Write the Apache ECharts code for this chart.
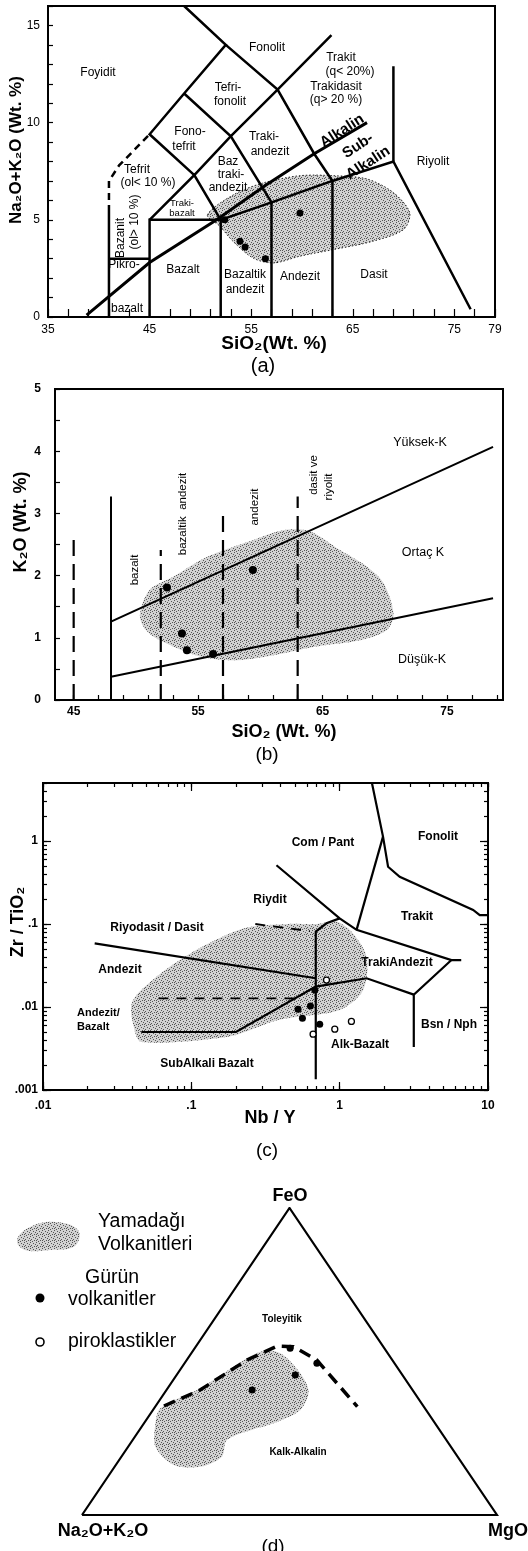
<!DOCTYPE html>
<html>
<head>
<meta charset="utf-8">
<title>Yamadağı volkanitleri - sınıflama diyagramları</title>
<script src="https://cdn.jsdelivr.net/npm/echarts@6/dist/echarts.min.js"></script>
<style>
html, body { margin: 0; padding: 0; background: #fff; }
#chart { width: 528px; height: 1551px; }
</style>
</head>
<body>
<div id="chart"></div>
<script>
var FONT = '"Liberation Sans", Arial, Helvetica, sans-serif';

// ---------- (a) TAS : [SiO2, Na2O+K2O]
var tasXLabels = [35, 45, 55, 65, 75, 79];
var tasYLabels = [0, 5, 10, 15];
var tasBounds = [
    [[41, 0], [41, 5.4]],
    [[41, 3], [45, 3]],
    [[45, 0], [45, 5], [52, 5]],
    [[52, 0], [52, 5], [57, 5.9], [63, 7], [69, 8], [76.6, 0.4]],
    [[57, 0], [57, 5.9]],
    [[63, 0], [63, 7]],
    [[69, 8], [69, 12.9]],
    [[45, 5], [49.4, 7.3], [52, 5]],
    [[49.4, 7.3], [45, 9.4], [48.4, 11.5], [52.5, 14], [48.4, 16]],
    [[49.4, 7.3], [53, 9.3], [57.6, 11.7], [62.9, 14.5]],
    [[48.4, 11.5], [53, 9.3], [57, 5.9]],
    [[52.5, 14], [57.6, 11.7], [61.2, 8.4], [63, 7]]
];
var tasDashed = [[[41, 5.4], [41, 7], [42, 7.8], [45, 9.4]]];
var tasAlkaline = [[[38.8, 0.1], [45, 2.8], [51.6, 5.0], [56.5, 6.8], [61.2, 8.4], [66.4, 10.0]]];
var tasField = [[50.7, 5.26], [53.3, 6.3], [56.2, 6.9], [59.8, 7.27], [63.1, 7.27], [66.4, 7.1], [69.0, 6.4],
    [70.6, 5.37], [70.0, 4.5], [67.0, 3.9], [63.1, 3.47], [59.8, 3.13], [57.2, 2.78], [55.2, 3.03],
    [53.2, 3.9], [51.9, 4.68]];
var tasGurun = [[52.4, 5.0], [53.9, 3.9], [54.4, 3.6], [56.4, 3.0], [59.8, 5.35]];

// ---------- (b) K2O - SiO2
var k2oXTicks = [45, 47, 49, 51, 53, 55, 57, 59, 61, 63, 65, 67, 69, 71, 73, 75, 77, 79];
var k2oXLabels = [45, 55, 65, 75];
var k2oBounds = [
    [[48, 0], [48, 3.27]],
    [[48, 1.26], [78.7, 4.07]],
    [[48, 0.375], [78.7, 1.635]]
];
var k2oDashed = [
    [[45, 0], [45, 2.6]],
    [[52, 0], [52, 2.41]],
    [[57, 0], [57, 3.0]],
    [[63, 0], [63, 3.27]]
];
var k2oField = [[50.33, 1.39], [51.1, 1.77], [53.0, 1.98], [55.7, 2.30], [59.4, 2.57], [61.85, 2.73], [64.0, 2.71],
    [66.4, 2.41], [68.6, 2.14], [69.9, 1.88], [70.7, 1.39], [70.2, 1.13], [68.0, 0.96], [64.5, 0.86],
    [60.5, 0.70], [57.8, 0.64], [55.15, 0.70], [53.0, 0.86], [51.4, 1.02], [50.6, 1.18]];
var k2oGurun = [[52.5, 1.81], [53.7, 1.07], [54.1, 0.80], [56.2, 0.74], [59.4, 2.09]];

// ---------- (c) Zr/TiO2 - Nb/Y
var wfXTicks = [0.01, 0.02, 0.03, 0.04, 0.05, 0.06, 0.07, 0.08, 0.09, 0.1, 0.2, 0.3, 0.4, 0.5, 0.6, 0.7, 0.8, 0.9,
    1, 2, 3, 4, 5, 6, 7, 8, 9, 10];
var wfYTicks = [0.001, 0.002, 0.003, 0.004, 0.005, 0.006, 0.007, 0.008, 0.009, 0.01, 0.02, 0.03, 0.04, 0.05, 0.06,
    0.07, 0.08, 0.09, 0.1, 0.2, 0.3, 0.4, 0.5, 0.6, 0.7, 0.8, 0.9, 1, 2, 3, 4, 5];
var wfXLabels = [0.01, 0.1, 1, 10];
var wfYLabels = [0.001, 0.01, 0.1, 1];
var wfLabelText = { '-3': '.001', '-2': '.01', '-1': '.1', '0': '1', '1': '10' };
var wfBounds = [
    [[1.65, 5], [1.96, 1.13], [2.12, 0.49], [2.54, 0.37], [7.94, 0.148], [8.8, 0.128], [10, 0.128]],
    [[1.96, 1.13], [1.3, 0.085]],
    [[0.375, 0.51], [1.0, 0.117], [1.3, 0.085], [5.67, 0.0368], [6.6, 0.0368]],
    [[5.67, 0.0368], [3.16, 0.0141], [3.16, 0.0033]],
    [[0.69, 0.00135], [0.69, 0.081], [0.815, 0.102], [1.0, 0.117]],
    [[0.0223, 0.0585], [0.69, 0.0222]],
    [[0.046, 0.005], [0.2, 0.005], [0.69, 0.0176], [1.52, 0.0222], [3.16, 0.0141]]
];
var wfDashed = [
    [[0.27, 0.1], [0.63, 0.082]],
    [[0.06, 0.0127], [0.55, 0.0127]]
];
var wfField = [[0.040, 0.0116], [0.058, 0.023], [0.09, 0.04], [0.14, 0.062], [0.235, 0.09], [0.45, 0.1], [0.7, 0.1],
    [0.95, 0.107], [1.23, 0.077], [1.52, 0.04], [1.44, 0.016], [1.0, 0.0092], [0.39, 0.007], [0.18, 0.0044],
    [0.046, 0.0038], [0.041, 0.0057]];
var wfGurun = [[0.524, 0.0094], [0.561, 0.0073], [0.635, 0.0103], [0.68, 0.016], [0.734, 0.0062]];
var wfPiro = [[0.662, 0.0047], [0.815, 0.0211], [0.927, 0.0054], [1.2, 0.0067]];

// ---------- (d) AFM : [Na2O+K2O, FeO, MgO] %
var afmFrame = [[100, 0, 0], [0, 100, 0], [0, 0, 100], [100, 0, 0]];
var afmDivide = [[62.5, 35.5, 2], [51.2, 40.7, 8.1], [35, 50.5, 14.5], [25.5, 55, 19.5], [21.6, 54.8, 23.6],
    [18.2, 50.5, 31.3], [17.1, 42.9, 40], [16, 35.3, 48.7]];
var afmField = [[67.35, 29.9, 2.75], [63.7, 34.8, 1.5], [50.85, 41.3, 7.85], [39.35, 48.3, 12.35], [30.4, 53.2, 16.4],
    [25.85, 52.7, 21.45], [24.3, 46.2, 29.5], [25.3, 40.2, 34.5], [30.3, 34.2, 35.5], [38.85, 29.9, 31.25],
    [45.35, 27.7, 26.95], [52.9, 24.4, 22.7], [56.8, 19, 24.2], [63.65, 15.7, 20.65], [69.75, 16.3, 13.95],
    [71.2, 22.2, 6.6]];
var afmGurun = [[22.7, 54.3, 23.0], [18.7, 49.4, 31.9], [25.8, 45.6, 28.6], [38.65, 40.7, 20.65]];

function afmXY(p) {
    var s = p[0] + p[1] + p[2];
    return [(p[2] + p[1] / 2) / s, p[1] / s];
}

// stippled fill like the scanned grey dot screen
var stipple = (function () {
    var c = document.createElement('canvas');
    c.width = 6; c.height = 6;
    var g = c.getContext('2d');
    g.fillStyle = '#d2d2d2';
    g.fillRect(0, 0, 6, 6);
    g.fillStyle = '#555';
    [[0, 0], [3, 1], [1, 3], [4, 4], [2, 5], [5, 2], [0, 4]].forEach(function (d) { g.fillRect(d[0], d[1], 1, 1); });
    return c;
})();
var stippleFill = { image: stipple, repeat: 'repeat' };

var chart = echarts.init(document.getElementById('chart'));

function bounds(i, paths, width, dash) {
    return {
        type: 'lines', coordinateSystem: 'cartesian2d', xAxisIndex: i, yAxisIndex: i,
        polyline: true, silent: true, z: 3,
        lineStyle: { color: '#000', width: width, opacity: 1, type: dash || 'solid' },
        data: paths.map(function (p) { return { coords: p }; })
    };
}
function field(i, pts, outline) {
    return {
        type: 'custom', xAxisIndex: i, yAxisIndex: i, silent: true, z: 1,
        renderItem: function (params, api) {
            if (params.dataIndex !== 0) return null;
            var poly = pts.map(function (p) { return api.coord(p); });
            var style = { fill: stippleFill };
            if (outline) { style.stroke = '#222'; style.lineWidth = 1; style.lineDash = [1.5, 2]; }
            return { type: 'polygon', shape: { points: poly, smooth: 0.3 }, style: style };
        },
        data: pts
    };
}
function dots(i, pts, open, size) {
    return {
        type: 'scatter', xAxisIndex: i, yAxisIndex: i, silent: true, z: 5,
        symbol: 'circle', symbolSize: size || 7,
        itemStyle: open ? { color: '#fff', borderColor: '#000', borderWidth: 1.3, opacity: 1 } : { color: '#000', opacity: 1 },
        data: pts
    };
}

var lineStyleAxis = { color: '#000', width: 2 };
var tickLine = { color: '#000', width: 1.2 };
function logAxis(grid, pos, ticks, len, labels, margin) {
    return {
        gridIndex: grid, type: 'log', logBase: 10, position: pos,
        min: pos === 'bottom' || pos === 'top' ? 0.01 : 0.001,
        max: pos === 'bottom' || pos === 'top' ? 10 : 5,
        axisLine: { show: true, onZero: false, lineStyle: lineStyleAxis },
        axisTick: { show: true, inside: true, length: len, customValues: ticks, lineStyle: tickLine },
        axisLabel: labels ? {
            show: true, customValues: labels, color: '#000', fontSize: 12, fontWeight: 'bold', fontFamily: FONT, margin: margin,
            formatter: function (v) { return wfLabelText[String(Math.round(Math.log(v) / Math.LN10))]; }
        } : { show: false },
        splitLine: { show: false }, minorSplitLine: { show: false }
    };
}

function F(size, bold) { return (bold ? 'bold ' : '') + size + 'px ' + FONT; }
function txt(x, y, s, font, rotDeg, align) {
    return {
        type: 'text', x: x, y: y, rotation: (rotDeg || 0) * Math.PI / 180, silent: true, z: 20,
        style: {
            text: s, font: font, fill: '#000',
            textAlign: align || 'center', textVerticalAlign: 'middle',
            align: align || 'center', verticalAlign: 'middle'
        }
    };
}

var labels = [
    // (a)
    txt(98, 73, 'Foyidit', F(12)), txt(267, 48, 'Fonolit', F(12)),
    txt(228, 88, 'Tefri-', F(12)), txt(230, 102, 'fonolit', F(12)),
    txt(341, 58, 'Trakit', F(12)), txt(350, 72, '(q< 20%)', F(12)),
    txt(336, 87, 'Trakidasit', F(12)), txt(336, 100, '(q> 20 %)', F(12)),
    txt(190, 132, 'Fono-', F(12)), txt(184, 147, 'tefrit', F(12)),
    txt(264, 137, 'Traki-', F(12)), txt(270, 152, 'andezit', F(12)),
    txt(342, 131, 'Alkalin', F(15, true), 33),
    txt(358, 146, 'Sub-', F(15, true), 33), txt(368, 163, 'Alkalin', F(15, true), 33),
    txt(433, 162, 'Riyolit', F(12)),
    txt(137, 170, 'Tefrit', F(12)), txt(148, 183, '(ol< 10 %)', F(12)),
    txt(228, 162, 'Baz', F(12)), txt(231, 175, 'traki-', F(12)), txt(228, 188, 'andezit', F(12)),
    txt(182, 203, 'Traki-', F(9.5)), txt(182, 213, 'bazalt', F(9.5)),
    txt(121, 238, 'Bazanit', F(12), 90), txt(135, 222, '(ol> 10 %)', F(12), 90),
    txt(124, 265, 'Pikro-', F(12)), txt(127, 309, 'bazalt', F(12)),
    txt(183, 270, 'Bazalt', F(12)),
    txt(245, 275, 'Bazaltik', F(12)), txt(245, 290, 'andezit', F(12)),
    txt(300, 277, 'Andezit', F(12)), txt(374, 275, 'Dasit', F(12)),
    txt(16, 150, 'Na₂O+K₂O (Wt. %)', F(17, true), 90),
    txt(274, 344, 'SiO₂(Wt. %)', F(19, true)),
    txt(263, 366, '(a)', F(20)),
    // (b)
    txt(135, 570, 'bazalt', F(11.5), 90), txt(183, 514, 'bazaltik  andezit', F(11.5), 90),
    txt(255, 507, 'andezit', F(11.5), 90),
    txt(314, 475, 'dasit ve', F(11.5), 90), txt(329, 487, 'riyolit', F(11.5), 90),
    txt(420, 443, 'Yüksek-K', F(12.5)), txt(423, 553, 'Ortaç K', F(12.5)), txt(422, 660, 'Düşük-K', F(12.5)),
    txt(21, 522, 'K₂O (Wt. %)', F(18, true), 90),
    txt(284, 732, 'SiO₂ (Wt. %)', F(18, true)),
    txt(267, 755, '(b)', F(19)),
    // (c)
    txt(323, 843, 'Com / Pant', F(12, true)), txt(438, 837, 'Fonolit', F(12, true)),
    txt(270, 900, 'Riydit', F(12, true)), txt(417, 917, 'Trakit', F(12, true)),
    txt(157, 928, 'Riyodasit / Dasit', F(12, true)), txt(397, 963, 'TrakiAndezit', F(12, true)),
    txt(120, 970, 'Andezit', F(12, true)),
    txt(77, 1013, 'Andezit/', F(11, true), 0, 'left'), txt(77, 1027, 'Bazalt', F(11, true), 0, 'left'),
    txt(449, 1025, 'Bsn / Nph', F(12, true)), txt(360, 1045, 'Alk-Bazalt', F(12, true)),
    txt(207, 1064, 'SubAlkali Bazalt', F(12, true)),
    txt(18, 922, 'Zr / TiO₂', F(18, true), 90),
    txt(270, 1118, 'Nb / Y', F(18, true)),
    txt(267, 1151, '(c)', F(19)),
    // (d)
    txt(290, 1196, 'FeO', F(18, true)),
    txt(282, 1319, 'Toleyitik', F(10, true)), txt(298, 1452, 'Kalk-Alkalin', F(10, true)),
    txt(103, 1531, 'Na₂O+K₂O', F(18, true)), txt(508, 1531, 'MgO', F(18, true)),
    txt(273, 1547, '(d)', F(19)),
    txt(98, 1222, 'Yamadağı', F(19.5), 0, 'left'), txt(98, 1245, 'Volkanitleri', F(19.5), 0, 'left'),
    txt(85, 1278, 'Gürün', F(19.5), 0, 'left'), txt(68, 1300, 'volkanitler', F(19.5), 0, 'left'),
    txt(68, 1342, 'piroklastikler', F(19.5), 0, 'left'),
    {
        type: 'polygon', silent: true, z: 15,
        shape: { points: [[17, 1240], [30, 1227], [55, 1222], [78, 1230], [75, 1246], [50, 1250], [25, 1250]], smooth: 0.4 },
        style: { fill: stippleFill }
    },
    { type: 'circle', silent: true, z: 15, shape: { cx: 40, cy: 1298, r: 4.5 }, style: { fill: '#000' } },
    { type: 'circle', silent: true, z: 15, shape: { cx: 40, cy: 1342, r: 4 }, style: { fill: '#fff', stroke: '#000', lineWidth: 1.6 } }
];

var gridBox = { show: true, borderColor: '#000', borderWidth: 2, backgroundColor: 'transparent', outerBoundsMode: 'none', containLabel: false };

var option = {
    animation: false,
    backgroundColor: '#fff',
    grid: [
        Object.assign({ left: 48, top: 6, width: 447, height: 311 }, gridBox),
        Object.assign({ left: 55, top: 389, width: 448, height: 311 }, gridBox),
        Object.assign({ left: 43, top: 783, width: 445, height: 307 }, gridBox),
        { left: 82, top: 1208, width: 415, height: 307, show: false, outerBoundsMode: 'none', containLabel: false }
    ],
    xAxis: [
        {
            gridIndex: 0, type: 'value', min: 35, max: 79, interval: 2,
            axisLine: { show: true, onZero: false, lineStyle: lineStyleAxis },
            axisTick: { show: true, inside: true, length: 8, lineStyle: tickLine },
            axisLabel: {
                show: true, color: '#000', fontSize: 12, fontFamily: FONT, margin: 7,
                formatter: function (v) { return tasXLabels.indexOf(v) >= 0 ? String(v) : ''; }
            },
            splitLine: { show: false }
        },
        {
            gridIndex: 1, type: 'value', min: 43.5, max: 79.5,
            axisLine: { show: true, onZero: false, lineStyle: lineStyleAxis },
            axisTick: { show: true, inside: true, length: 5, customValues: k2oXTicks, lineStyle: tickLine },
            axisLabel: { show: true, customValues: k2oXLabels, color: '#000', fontSize: 12, fontWeight: 'bold', fontFamily: FONT, margin: 6 },
            splitLine: { show: false }
        },
        logAxis(2, 'bottom', wfXTicks, 4, wfXLabels, 10),
        { gridIndex: 3, type: 'value', min: 0, max: 1, show: false },
        logAxis(2, 'top', wfXTicks, 4, null),
        logAxis(2, 'bottom', wfXLabels, 8, null),
        logAxis(2, 'top', wfXLabels, 8, null)
    ],
    yAxis: [
        {
            gridIndex: 0, type: 'value', min: 0, max: 16, interval: 1,
            axisLine: { show: true, onZero: false, lineStyle: lineStyleAxis },
            axisTick: { show: true, inside: true, length: 5, lineStyle: tickLine },
            axisLabel: {
                show: true, color: '#000', fontSize: 12, fontFamily: FONT, margin: 8,
                formatter: function (v) { return tasYLabels.indexOf(v) >= 0 ? String(v) : ''; }
            },
            splitLine: { show: false }
        },
        {
            gridIndex: 1, type: 'value', min: 0, max: 5, interval: 0.5,
            axisLine: { show: true, onZero: false, lineStyle: lineStyleAxis },
            axisTick: { show: true, inside: true, length: 5, lineStyle: tickLine },
            axisLabel: {
                show: true, color: '#000', fontSize: 12, fontWeight: 'bold', fontFamily: FONT, margin: 14,
                formatter: function (v) { return Math.abs(v - Math.round(v)) < 1e-9 ? String(Math.round(v)) : ''; }
            },
            splitLine: { show: false }
        },
        logAxis(2, 'left', wfYTicks, 4, wfYLabels, 5),
        { gridIndex: 3, type: 'value', min: 0, max: 1, show: false },
        logAxis(2, 'right', wfYTicks, 4, null),
        logAxis(2, 'left', wfYLabels, 8, null),
        logAxis(2, 'right', wfYLabels, 8, null)
    ],
    graphic: { elements: labels },
    series: [
        field(0, tasField, true),
        bounds(0, tasBounds, 2.5),
        bounds(0, tasDashed, 2.5, [7, 5]),
        bounds(0, tasAlkaline, 3),
        dots(0, tasGurun, false, 7),

        field(1, k2oField, false),
        bounds(1, k2oBounds, 2),
        bounds(1, k2oDashed, 2.2, [16, 8]),
        dots(1, k2oGurun, false, 8),

        field(2, wfField, false),
        bounds(2, wfBounds, 2.2),
        bounds(2, wfDashed, 1.8, [10, 8]),
        dots(2, wfGurun, false, 7),
        dots(2, wfPiro, true, 6),

        bounds(3, [afmFrame.map(afmXY)], 2.2),
        field(3, afmField.map(afmXY), false),
        bounds(3, [afmDivide.map(afmXY)], 3.5, [12, 7]),
        dots(3, afmGurun.map(afmXY), false, 7)
    ]
};

chart.setOption(option);
window.addEventListener('resize', function () { chart.resize(); });
</script>
</body>
</html>
